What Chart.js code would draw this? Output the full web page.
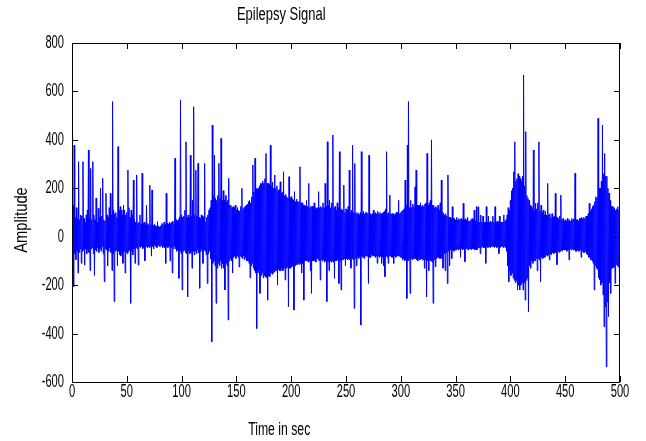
<!DOCTYPE html>
<html>
<head>
<meta charset="utf-8">
<title>Epilepsy Signal</title>
<script src="https://cdn.jsdelivr.net/npm/chart.js"></script>
<style>
  html, body { margin: 0; padding: 0; background: #fff; }
</style>
</head>
<body>
<canvas id="signalChart" width="646" height="441"></canvas>
<script>
// two samples per second (0 .. 500 s):
// whole seconds carry the upper edge, half seconds the lower edge
var sampleStep = 0.5;
var amplitude = [
  427, -120, 130, -207, 378, -70, 80, -95, 120, -60, 75, -150, 310, -65, 70, -50, 90, -110, 85, -60,                 // 0
  310, -55, 75, -117, 60, -50, 90, -70, 110, -55, 358, -65, 80, -140, 282, -50, 70, -45, 310, -70,                   // 10
  90, -160, 70, -55, 160, -60, 60, -45, 117, -65, 80, -50, 200, -60, 85, -40, 241, -70, 70, -186,                    // 20
  65, -50, 179, -55, 90, -120, 80, -60, 120, -45, 179, -65, 90, -140, 558, -70, 110, -268, 95, -60,                  // 30
  100, -55, 80, -120, 372, -60, 110, -75, 124, -80, 110, -70, 90, -110, 131, -60, 110, -150, 90, -65,                // 40
  100, -70, 275, -60, 120, -55, 80, -275, 110, -60, 90, -75, 234, -50, 70, -110, 60, -45, 255, -50,                  // 50
  55, -117, 60, -40, 90, -45, 50, -40, 262, -50, 55, -45, 60, -100, 50, -40, 130, -45, 55, -40,                      // 60
  50, -45, 213, -40, 50, -80, 193, -40, 45, -50, 50, -35, 45, -40, 40, -45, 62, -35, 45, -40,                        // 70
  40, -40, 45, -35, 55, -45, 50, -40, 60, -45, 50, -110, 179, -40, 55, -45, 50, -40, 60, -100,                       // 80
  55, -45, 60, -150, 65, -50, 55, -40, 324, -50, 70, -60, 65, -55, 70, -172, 80, -60, 565, -70,                      // 90
  90, -220, 80, -60, 85, -55, 110, -65, 392, -70, 80, -248, 90, -60, 80, -70, 337, -65, 85, -130,                    // 100
  150, -60, 537, -75, 90, -60, 275, -70, 85, -55, 303, -65, 80, -213, 75, -60, 90, -50, 85, -110,                    // 110
  80, -55, 303, -60, 60, -75, 80, -193, 90, -70, 110, -60, 120, -90, 150, -434, 461, -110, 170, -100,                // 120
  337, -120, 160, -275, 150, -130, 170, -110, 303, -120, 160, -100, 406, -130, 150, -110, 190, -130, 150, -220,      // 130
  170, -110, 140, -120, 150, -344, 241, -100, 130, -90, 130, -100, 120, -150, 124, -85, 120, -80, 130, -90,          // 140
  110, -80, 120, -85, 110, -125, 105, -80, 125, -85, 200, -90, 115, -80, 120, -95, 125, -85, 130, -100,              // 150
  135, -100, 145, -110, 150, -170, 140, -120, 165, -110, 296, -130, 185, -140, 324, -150, 200, -379, 195, -150,      // 160
  200, -140, 210, -234, 220, -160, 220, -150, 230, -170, 220, -160, 240, -165, 344, -170, 220, -262, 220, -160,      // 170
  215, -165, 378, -150, 210, -155, 225, -150, 200, -145, 255, -140, 200, -140, 210, -200, 190, -135, 195, -140,      // 180
  227, -140, 180, -130, 185, -140, 268, -130, 170, -179, 175, -130, 165, -125, 160, -289, 248, -130, 160, -130,      // 190
  165, -125, 155, -120, 150, -303, 186, -120, 145, -115, 155, -115, 145, -110, 145, -115, 289, -110, 140, -150,      // 200
  140, -110, 130, -262, 130, -100, 125, -100, 150, -100, 125, -105, 220, -100, 120, -140, 125, -234, 125, -100,      // 210
  125, -100, 140, -100, 120, -105, 115, -90, 120, -95, 186, -100, 120, -179, 125, -95, 120, -100, 140, -95,          // 220
  120, -105, 220, -100, 125, -268, 392, -105, 130, -140, 150, -100, 120, -105, 140, -100, 420, -105, 120, -172,      // 230
  125, -100, 110, -100, 140, -95, 120, -193, 351, -100, 110, -220, 115, -95, 110, -95, 213, -90, 100, -120,          // 240
  115, -90, 110, -95, 125, -90, 275, -95, 100, -130, 110, -90, 378, -95, 100, -296, 303, -90, 95, -120,              // 250
  100, -85, 95, -90, 90, -85, 100, -365, 351, -80, 95, -85, 105, -90, 95, -80, 100, -80, 100, -80,                   // 260
  95, -193, 337, -85, 95, -85, 90, -75, 95, -80, 110, -80, 95, -85, 100, -80, 95, -110, 105, -80,                    // 270
  95, -85, 100, -80, 95, -110, 95, -85, 100, -120, 105, -165, 115, -80, 351, -85, 95, -110, 100, -80,                // 280
  172, -80, 95, -85, 95, -85, 95, -110, 90, -80, 95, -85, 100, -80, 100, -80, 151, -80, 95, -85,                     // 290
  100, -85, 105, -95, 110, -90, 115, -100, 234, -95, 130, -255, 378, -100, 558, -95, 120, -234, 150, -90,            // 300
  120, -95, 135, -90, 125, -90, 206, -90, 275, -95, 130, -100, 130, -90, 130, -95, 140, -90, 125, -95,               // 310
  130, -95, 125, -130, 135, -95, 140, -248, 344, -100, 130, -140, 140, -95, 150, -100, 400, -105, 130, -275,         // 320
  130, -95, 120, -124, 125, -90, 120, -85, 130, -85, 110, -90, 140, -90, 234, -85, 100, -130, 95, -70,               // 330
  90, -140, 95, -65, 85, -193, 255, -60, 80, -120, 80, -55, 75, -90, 124, -55, 75, -60, 75, -55,                     // 340
  70, -55, 80, -50, 70, -55, 75, -50, 70, -85, 75, -50, 70, -55, 138, -50, 70, -103, 75, -50,                        // 350
  70, -50, 80, -55, 65, -50, 65, -50, 70, -55, 75, -50, 70, -50, 110, -55, 65, -50, 124, -55,                        // 360
  60, -45, 124, -45, 60, -70, 90, -45, 60, -40, 85, -45, 60, -45, 60, -110, 124, -40, 60, -45,                       // 370
  85, -40, 60, -45, 65, -40, 60, -40, 85, -40, 60, -45, 124, -40, 60, -45, 65, -40, 60, -70,                         // 380
  85, -45, 60, -40, 60, -40, 60, -45, 90, -40, 65, -45, 70, -60, 90, -120, 120, -186, 110, -140,                     // 390
  150, -160, 190, -150, 200, -170, 268, -180, 392, -190, 230, -180, 240, -220, 260, -200, 250, -220, 240, -200,      // 400
  230, -190, 250, -220, 668, -190, 210, -262, 434, -180, 170, -170, 160, -310, 150, -120, 130, -130, 125, -100,      // 410
  115, -110, 358, -100, 105, -100, 138, -90, 115, -140, 140, -90, 392, -95, 105, -186, 130, -85, 100, -90,           // 420
  110, -85, 90, -85, 105, -75, 90, -80, 220, -75, 90, -96, 95, -70, 80, -75, 95, -65, 80, -70,                       // 430
  85, -65, 179, -65, 80, -115, 80, -60, 75, -65, 85, -60, 172, -55, 70, -60, 75, -55, 65, -55,                       // 440
  70, -55, 65, -60, 75, -55, 65, -96, 70, -50, 65, -55, 75, -50, 70, -55, 75, -55, 262, -60,                         // 450
  70, -60, 70, -55, 65, -60, 75, -55, 75, -85, 80, -60, 75, -65, 80, -65, 75, -60, 85, -70,                          // 460
  85, -75, 95, -85, 138, -85, 105, -95, 115, -100, 125, -110, 130, -220, 145, -120, 165, -130, 160, -135,            // 470
  489, -170, 200, -179, 200, -200, 230, -190, 461, -240, 260, -372, 344, -290, 250, -537, 250, -270, 200, -330,      // 480
  180, -190, 150, -234, 124, -130, 125, -130, 115, -125, 120, -193, 110, -115, 115, -120, 124, -125, 110, -151,      // 490
  100                                                                                                                // 500
];
var xTicks = [0, 50, 100, 150, 200, 250, 300, 350, 400, 450, 500];
var yTicks = [-600, -400, -200, 0, 200, 400, 600, 800];

var textFont = "18px 'Liberation Sans', Arial, sans-serif";

var points = amplitude.map(function(v, i) {
  return { x: i * sampleStep, y: v };
});

// squeezed text, the screenshot has narrow tall glyphs
function narrowText(ctx, text, x, y, align, sx, rot) {
  ctx.save();
  ctx.translate(x, y);
  if (rot) ctx.rotate(rot);
  ctx.scale(sx, 1);
  ctx.textAlign = align;
  ctx.textBaseline = 'middle';
  ctx.fillText(text, 0, 0);
  ctx.restore();
}

// matlab style box, inward ticks on all four sides, and the texts
var matlabFrame = {
  id: 'matlabFrame',
  afterDraw: function(chart) {
    var ctx = chart.ctx, a = chart.chartArea;
    var xs = chart.scales.x, ys = chart.scales.y;
    var tl = 6;
    ctx.save();
    ctx.strokeStyle = '#000';
    ctx.lineWidth = 1;
    ctx.strokeRect(Math.round(a.left) + 0.5, Math.round(a.top) + 0.5,
      Math.round(a.right - a.left) - 1, Math.round(a.bottom - a.top));
    ctx.beginPath();
    xTicks.forEach(function(t) {
      var px = Math.round(xs.getPixelForValue(t)) + 0.5;
      ctx.moveTo(px, a.bottom); ctx.lineTo(px, a.bottom - tl);
      ctx.moveTo(px, a.top); ctx.lineTo(px, a.top + tl);
    });
    yTicks.forEach(function(t) {
      var py = Math.round(ys.getPixelForValue(t)) + 0.5;
      ctx.moveTo(a.left, py); ctx.lineTo(a.left + tl, py);
      ctx.moveTo(a.right, py); ctx.lineTo(a.right - tl, py);
    });
    ctx.stroke();

    ctx.fillStyle = '#000';
    ctx.font = textFont;
    xTicks.forEach(function(t) {
      narrowText(ctx, String(t), xs.getPixelForValue(t), a.bottom + 10, 'center', 0.62);
    });
    yTicks.forEach(function(t) {
      narrowText(ctx, String(t), a.left - 8, ys.getPixelForValue(t), 'right', 0.62);
    });
    var cx = a.left + (a.right - a.left) * 0.38;
    narrowText(ctx, 'Epilepsy Signal', cx + 1, 15, 'center', 0.72);
    narrowText(ctx, 'Time in sec', cx - 1, 430, 'center', 0.68);
    narrowText(ctx, 'Amplitude', 22, 220, 'center', 0.82, -Math.PI / 2);
    ctx.restore();
  }
};

var ctx = document.getElementById('signalChart');
var signalChart = new Chart(ctx, {
  type: 'line',
  data: {
    datasets: [{
      data: points,
      borderColor: '#0000ff',
      borderWidth: 1,
      pointRadius: 0,
      tension: 0,
      fill: false
    }]
  },
  options: {
    responsive: false,
    animation: false,
    parsing: false,
    layout: { padding: { top: 43, right: 26, left: 0, bottom: 0 } },
    plugins: { legend: { display: false }, tooltip: { enabled: false } },
    scales: {
      x: {
        type: 'linear',
        min: 0, max: 500,
        afterBuildTicks: function(s) { s.ticks = xTicks.map(function(v) { return { value: v }; }); },
        afterFit: function(s) { s.height = 59; },
        grid: { display: false, drawTicks: false },
        border: { display: false },
        ticks: { display: false }
      },
      y: {
        min: -600, max: 800,
        afterBuildTicks: function(s) { s.ticks = yTicks.map(function(v) { return { value: v }; }); },
        afterFit: function(s) { s.width = 72; },
        grid: { display: false, drawTicks: false },
        border: { display: false },
        ticks: { display: false }
      }
    }
  },
  plugins: [matlabFrame]
});
</script>
</body>
</html>
